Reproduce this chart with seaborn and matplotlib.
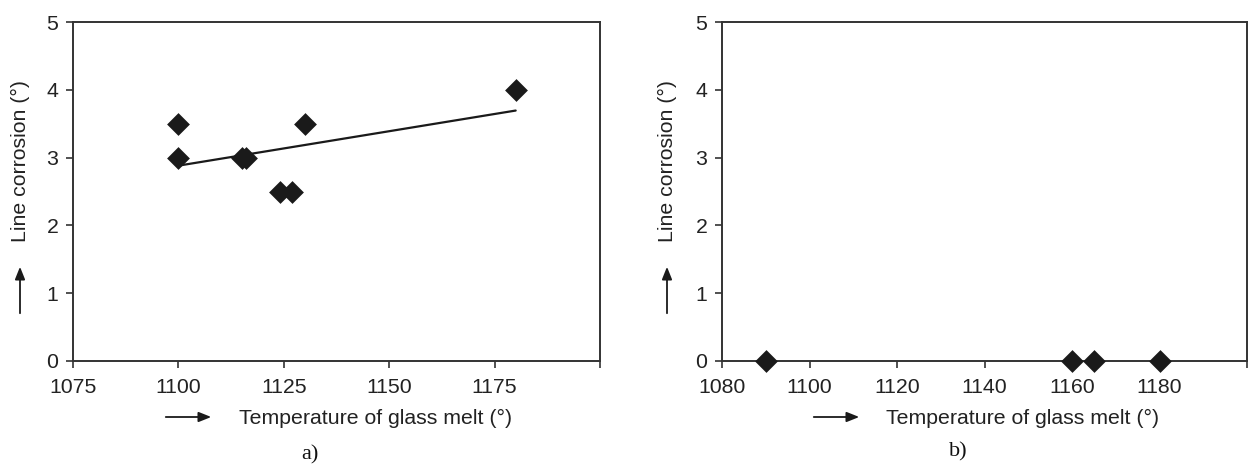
import matplotlib
matplotlib.use("Agg")
import matplotlib.pyplot as plt
import seaborn as sns
import numpy as np
import pandas as pd

# Data panel a)
temp_a = [1100, 1100, 1115, 1116, 1124, 1127, 1130, 1180]
corr_a = [3.5, 3.0, 3.0, 3.0, 2.5, 2.5, 3.5, 4.0]
# Data panel b)
temp_b = [1090, 1160, 1165, 1180]
corr_b = [0, 0, 0, 0]

xticks_a = [1075, 1100, 1125, 1150, 1175, 1200]
xticks_b = [1080, 1100, 1120, 1140, 1160, 1180, 1200]
yticks = [0, 1, 2, 3, 4, 5]
xlabel = "Temperature of glass melt (°)"
ylabel = "Line corrosion (°)"
panel_labels = ["a)", "b)"]

sns.set_theme(style="white")
plt.rcParams['font.family'] = ['Liberation Sans', 'DejaVu Sans']

W, H = 1248, 470
fig = plt.figure(figsize=(W / 100, H / 100), dpi=100)

def px_axes(x0, x1, y0, y1):
    return fig.add_axes([x0 / W, 1 - y1 / H, (x1 - x0) / W, (y1 - y0) / H])

ax_a = px_axes(73, 600, 22, 361)
ax_b = px_axes(722, 1247, 22, 361)

df_a = pd.DataFrame({"t": temp_a, "c": corr_a})
df_b = pd.DataFrame({"t": temp_b, "c": corr_b})

mk = dict(marker="D", s=135, color="#1a1a1a", edgecolor="#1a1a1a", linewidth=0, zorder=3, clip_on=False)
sns.scatterplot(data=df_a, x="t", y="c", ax=ax_a, **mk)
sns.regplot(data=df_a, x="t", y="c", ax=ax_a, scatter=False, ci=None, truncate=True,
            line_kws=dict(color="#1a1a1a", lw=1.6))
sns.scatterplot(data=df_b, x="t", y="c", ax=ax_b, **mk)

FS = 15.3
for ax, xt in [(ax_a, xticks_a), (ax_b, xticks_b)]:
    ax.set_xlim(xt[0], xt[-1])
    ax.set_ylim(0, 5)
    ax.set_xticks(xt)
    ax.set_xticklabels([str(v) for v in xt[:-1]] + [""])
    ax.set_yticks(yticks)
    ax.set_yticklabels([str(v) for v in yticks])
    ax.set_xlabel("")
    ax.set_ylabel("")
    for s in ax.spines.values():
        s.set_visible(True)
        s.set_color("#333333")
        s.set_linewidth(1.4)
    ax.tick_params(axis="both", which="major", direction="out", length=5, width=1.2,
                   color="#333333", labelsize=FS, labelcolor="#222222",
                   bottom=True, left=True, top=False, right=False)
    ax.tick_params(axis="x", pad=7.5)
    ax.tick_params(axis="y", pad=5.5)
    ax.grid(False)
    ax.set_facecolor("white")

def ftext(x, y, s, **kw):
    fig.text(x / W, 1 - y / H, s, **kw)

def farrow(x0, y0, x1, y1):
    fig.add_artist(matplotlib.patches.FancyArrowPatch(
        (x0 / W, 1 - y0 / H), (x1 / W, 1 - y1 / H), transform=fig.transFigure,
        arrowstyle="-|>,head_length=5,head_width=2", color="#1a1a1a", lw=1.3,
        mutation_scale=1.5))

# Panel a labels
ftext(376, 418, xlabel, ha="center", va="center", fontsize=FS, color="#222222")
farrow(163, 417, 214, 417)
ftext(20, 161, ylabel, ha="center", va="center", rotation=90, fontsize=FS, color="#222222")
farrow(20, 316, 20, 264)
ftext(310, 455, panel_labels[0], ha="center", va="center", fontsize=16,
      family=["Liberation Serif", "DejaVu Serif"], color="#111111")

# Panel b labels
ftext(1023, 418, xlabel, ha="center", va="center", fontsize=FS, color="#222222")
farrow(811, 417, 862, 417)
ftext(667, 161, ylabel, ha="center", va="center", rotation=90, fontsize=FS, color="#222222")
farrow(667, 316, 667, 264)
ftext(958, 452, panel_labels[1], ha="center", va="center", fontsize=16,
      family=["Liberation Serif", "DejaVu Serif"], color="#111111")

fig.savefig("out.png", dpi=100, facecolor="white")
